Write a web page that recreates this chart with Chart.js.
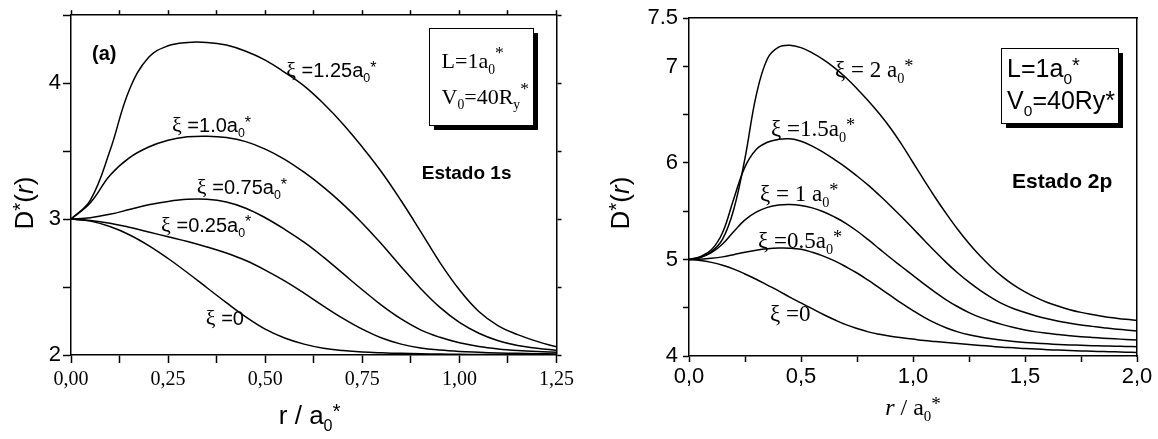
<!DOCTYPE html>
<html>
<head>
<meta charset="utf-8">
<script src="https://cdn.jsdelivr.net/npm/chart.js@4.4.1/dist/chart.umd.min.js"></script>
<style>
  html, body { margin: 0; padding: 0; background: #fff; }
  #wrap { position: relative; width: 1158px; height: 439px; overflow: hidden; }
  .panel { position: absolute; top: 0; width: 579px; height: 439px; }
</style>
</head>
<body>
<div id="wrap">
  <div class="panel" style="left:0"><canvas id="left" width="579" height="439"></canvas></div>
  <div class="panel" style="left:579px"><canvas id="right" width="579" height="439"></canvas></div>
</div>
<script>
const SERIF = "'Liberation Serif', 'Times New Roman', serif";
const SANS = "'Liberation Sans', Arial, sans-serif";

// Estado 1s: r / a0* and D*(r) for each xi
const r1s = [0, 0.05, 0.10, 0.15, 0.20, 0.25, 0.30, 0.35, 0.40, 0.45, 0.50, 0.55, 0.60,
             0.65, 0.70, 0.75, 0.80, 0.85, 0.90, 0.95, 1.00, 1.05, 1.10, 1.15, 1.20, 1.25];
const d1s_xi0   = [3.00, 2.985, 2.945, 2.885, 2.805, 2.71, 2.605, 2.495, 2.385, 2.28, 2.19, 2.125, 2.08,
                   2.05, 2.033, 2.022, 2.016, 2.012, 2.009, 2.007, 2.005, 2.004, 2.003, 2.002, 2.002, 2.001];
const d1s_xi025 = [3.00, 2.99, 2.97, 2.94, 2.905, 2.87, 2.835, 2.795, 2.75, 2.695, 2.625, 2.545, 2.455,
                   2.36, 2.27, 2.19, 2.125, 2.08, 2.052, 2.036, 2.026, 2.02, 2.015, 2.012, 2.01, 2.008];
const d1s_xi075 = [3.00, 3.01, 3.035, 3.07, 3.105, 3.13, 3.145, 3.145, 3.125, 3.08, 3.01, 2.925, 2.83,
                   2.72, 2.60, 2.48, 2.365, 2.265, 2.185, 2.13, 2.09, 2.063, 2.045, 2.033, 2.025, 2.02];
const d1s_xi100 = [3.00, 3.12, 3.32, 3.45, 3.53, 3.58, 3.605, 3.61, 3.60, 3.57, 3.515, 3.44, 3.345,
                   3.235, 3.11, 2.97, 2.815, 2.65, 2.49, 2.35, 2.24, 2.16, 2.105, 2.07, 2.05, 2.035];
const d1s_xi125 = [3.00, 3.14, 3.50, 3.95, 4.19, 4.275, 4.30, 4.30, 4.28, 4.235, 4.17, 4.08, 3.98,
                   3.85, 3.70, 3.53, 3.345, 3.135, 2.91, 2.68, 2.48, 2.32, 2.215, 2.15, 2.10, 2.06];

// Estado 2p
const r2p = [0, 0.05, 0.10, 0.15, 0.20, 0.25, 0.30, 0.35, 0.40, 0.45, 0.50, 0.55, 0.60, 0.65,
             0.70, 0.75, 0.80, 0.85, 0.90, 0.95, 1.00, 1.05, 1.10, 1.15, 1.20, 1.25, 1.30, 1.35,
             1.40, 1.45, 1.50, 1.55, 1.60, 1.65, 1.70, 1.75, 1.80, 1.85, 1.90, 1.95, 2.00];
const d2p_xi0  = [5.00, 4.99, 4.97, 4.94, 4.90, 4.85, 4.795, 4.735, 4.675, 4.61, 4.55, 4.49, 4.43, 4.375,
                  4.325, 4.285, 4.25, 4.225, 4.205, 4.19, 4.175, 4.16, 4.15, 4.14, 4.13, 4.12, 4.11, 4.10,
                  4.09, 4.085, 4.078, 4.072, 4.066, 4.061, 4.057, 4.053, 4.049, 4.046, 4.043, 4.04, 4.037];
const d2p_xi05 = [5.00, 5.003, 5.012, 5.027, 5.05, 5.075, 5.095, 5.11, 5.118, 5.117, 5.105, 5.075, 5.035, 4.985,
                  4.925, 4.86, 4.785, 4.705, 4.625, 4.545, 4.47, 4.40, 4.34, 4.29, 4.25, 4.22, 4.197, 4.178,
                  4.163, 4.151, 4.141, 4.133, 4.126, 4.12, 4.115, 4.111, 4.107, 4.104, 4.101, 4.099, 4.097];
const d2p_xi1  = [5.00, 5.02, 5.07, 5.16, 5.29, 5.41, 5.49, 5.54, 5.565, 5.57, 5.56, 5.535, 5.495, 5.44,
                  5.375, 5.295, 5.205, 5.11, 5.015, 4.925, 4.835, 4.745, 4.66, 4.58, 4.51, 4.45, 4.40, 4.36,
                  4.325, 4.295, 4.27, 4.25, 4.235, 4.222, 4.21, 4.20, 4.192, 4.185, 4.178, 4.172, 4.167];
const d2p_xi15 = [5.00, 5.03, 5.10, 5.28, 5.63, 5.96, 6.14, 6.215, 6.245, 6.25, 6.225, 6.175, 6.11, 6.035,
                  5.955, 5.865, 5.77, 5.665, 5.555, 5.44, 5.32, 5.20, 5.08, 4.965, 4.86, 4.765, 4.68, 4.605,
                  4.54, 4.49, 4.45, 4.415, 4.385, 4.36, 4.34, 4.322, 4.307, 4.293, 4.28, 4.27, 4.26];
const d2p_xi2  = [5.00, 5.02, 5.08, 5.21, 5.52, 6.05, 6.70, 7.08, 7.20, 7.22, 7.195, 7.14, 7.07, 6.985,
                  6.885, 6.77, 6.645, 6.51, 6.36, 6.19, 6.005, 5.82, 5.64, 5.47, 5.31, 5.165, 5.035, 4.92,
                  4.82, 4.735, 4.665, 4.605, 4.555, 4.515, 4.48, 4.452, 4.43, 4.41, 4.394, 4.38, 4.37];

function pts(xs, ys) { return xs.map((x, i) => ({ x: x, y: ys[i] })); }
function curve(xs, ys) {
  return { data: pts(xs, ys), borderColor: '#000', borderWidth: 1.5, pointRadius: 0,
           tension: 0.4, fill: false };
}

// rich text: parts with optional sub / sup / serif / italic
function partFont(p, o) {
  let size = o.size;
  if (p.k === 'sub') size = o.size * 0.62;
  if (p.k === 'sup') size = o.size * 0.8;
  if (p.big) size = o.size * 1.1;
  const fam = p.serif ? SERIF : (o.family || SANS);
  return { font: (p.it ? 'italic ' : '') + (o.bold ? 'bold ' : '') + size + 'px ' + fam, size: size };
}
function measureRich(ctx, parts, o) {
  let w = 0;
  for (const p of parts) { ctx.font = partFont(p, o).font; w += ctx.measureText(p.t).width; }
  return w;
}
function drawRich(ctx, x, y, parts, o) {
  let cx = x;
  for (const p of parts) {
    const f = partFont(p, o);
    let dy = 0;
    if (p.k === 'sub') dy = o.size * 0.26;
    if (p.k === 'sup') dy = -o.size * (o.supLift || 0.22);
    ctx.font = f.font;
    ctx.fillText(p.t, cx, y + dy);
    cx += ctx.measureText(p.t).width;
  }
}

function decor(spec) {
  return {
    id: 'decor',
    afterDraw(chart) {
      const ctx = chart.ctx, xs = chart.scales.x, ys = chart.scales.y;
      const X = v => xs.getPixelForValue(v), Y = v => ys.getPixelForValue(v);
      const ca = chart.chartArea;
      ctx.save();
      ctx.textAlign = 'left';
      ctx.textBaseline = 'alphabetic';
      for (const b of spec.boxes) {
        const x0 = Math.round(X(b.r0)), x1 = Math.round(X(b.r1));
        const y0 = Math.round(Y(b.d0)), y1 = Math.round(Y(b.d1));
        ctx.fillStyle = '#000';
        ctx.fillRect(x0 + 5, y0 + 5, x1 - x0, y1 - y0);
        ctx.fillStyle = '#fff';
        ctx.fillRect(x0, y0, x1 - x0, y1 - y0);
        ctx.strokeStyle = '#000';
        ctx.lineWidth = 1;
        ctx.strokeRect(x0 + 0.5, y0 + 0.5, x1 - x0, y1 - y0);
      }
      ctx.fillStyle = '#000';
      for (const n of spec.notes) drawRich(ctx, X(n.r), Y(n.d) + n.size * 0.35, n.parts, n);
      const xt = spec.xTitle;
      const wx = measureRich(ctx, xt.parts, xt);
      drawRich(ctx, (ca.left + ca.right) / 2 - wx / 2 + (xt.dx || 0), xt.y, xt.parts, xt);
      const yt = spec.yTitle;
      const wy = measureRich(ctx, yt.parts, yt);
      ctx.translate(yt.x, (ca.top + ca.bottom) / 2 + (yt.dy || 0));
      ctx.rotate(-Math.PI / 2);
      drawRich(ctx, -wy / 2, 0, yt.parts, yt);
      ctx.restore();
    }
  };
}

function fixSize(w, h) {
  return function (scale) {
    if (w !== null) scale.width = w;
    if (h !== null) scale.height = h;
  };
}
const isStep = (v, s) => Math.abs(v / s - Math.round(v / s)) < 1e-6;

// ---------- left panel ----------
const notes1s = [
  { r: 0.054, d: 4.22, size: 20, bold: true, parts: [{ t: '(a)' }] },
  { r: 0.554, d: 4.095, size: 20, parts: [{ t: 'ξ', serif: true, big: true }, { t: ' =1.25a' }, { t: '0', k: 'sub' }, { t: '*', k: 'sup' }] },
  { r: 0.260, d: 3.69, size: 20, parts: [{ t: 'ξ', serif: true, big: true }, { t: ' =1.0a' }, { t: '0', k: 'sub' }, { t: '*', k: 'sup' }] },
  { r: 0.324, d: 3.236, size: 20, parts: [{ t: 'ξ', serif: true, big: true }, { t: ' =0.75a' }, { t: '0', k: 'sub' }, { t: '*', k: 'sup' }] },
  { r: 0.232, d: 2.96, size: 20, parts: [{ t: 'ξ', serif: true, big: true }, { t: ' =0.25a' }, { t: '0', k: 'sub' }, { t: '*', k: 'sup' }] },
  { r: 0.347, d: 2.27, size: 20, parts: [{ t: 'ξ', serif: true, big: true }, { t: ' =0' }] },
  { r: 0.903, d: 3.345, size: 19, bold: true, parts: [{ t: 'Estado 1s' }] },
  { r: 0.954, d: 4.167, size: 22, family: SERIF, supLift: 0.45, parts: [{ t: 'L=1a' }, { t: '0', k: 'sub' }, { t: '*', k: 'sup' }] },
  { r: 0.954, d: 3.905, size: 22, family: SERIF, supLift: 0.45, parts: [{ t: 'V' }, { t: '0', k: 'sub' }, { t: '=40R' }, { t: 'y', k: 'sub' }, { t: '*', k: 'sup' }] }
];

new Chart(document.getElementById('left'), {
  type: 'line',
  data: {
    datasets: [curve(r1s, d1s_xi0), curve(r1s, d1s_xi025), curve(r1s, d1s_xi075),
               curve(r1s, d1s_xi100), curve(r1s, d1s_xi125)]
  },
  options: {
    responsive: false,
    animation: false,
    devicePixelRatio: 1,
    layout: { padding: 0 },
    plugins: { legend: { display: false }, tooltip: { enabled: false } },
    scales: {
      x: {
        type: 'linear', position: 'bottom', min: 0, max: 1.25,
        afterFit: fixSize(null, 84),
        grid: { drawOnChartArea: false, tickLength: 8, tickColor: '#000', tickWidth: 1.5 },
        border: { color: '#000', width: 1.5 },
        ticks: {
          stepSize: 0.125, autoSkip: false, maxRotation: 0, padding: 5, color: '#000',
          font: { family: SERIF, size: 20 },
          callback: v => isStep(v, 0.25) ? v.toFixed(2).replace('.', ',') : ''
        }
      },
      x2: {
        type: 'linear', position: 'top', min: 0, max: 1.25,
        afterFit: fixSize(null, 10),
        grid: { drawOnChartArea: false, tickLength: 5, tickColor: '#000', tickWidth: 1.5 },
        border: { color: '#000', width: 1.5 },
        ticks: { stepSize: 0.125, autoSkip: false, display: false }
      },
      y: {
        type: 'linear', position: 'left', min: 2, max: 4.5,
        afterFit: fixSize(71, null),
        grid: { drawOnChartArea: false, tickLength: 8, tickColor: '#000', tickWidth: 1.5 },
        border: { color: '#000', width: 1.5 },
        ticks: {
          stepSize: 0.5, autoSkip: false, padding: 2, color: '#000',
          font: { family: SANS, size: 22 },
          callback: v => isStep(v, 1) ? String(v) : ''
        }
      },
      y2: {
        type: 'linear', position: 'right', min: 2, max: 4.5,
        afterFit: fixSize(20, null),
        grid: { drawOnChartArea: false, tickLength: 5, tickColor: '#000', tickWidth: 1.5 },
        border: { color: '#000', width: 1.5 },
        ticks: { stepSize: 0.5, autoSkip: false, display: false }
      }
    }
  },
  plugins: [decor({
    boxes: [{ r0: 0.923, r1: 1.189, d0: 4.407, d1: 3.695 }],
    notes: notes1s,
    xTitle: { y: 424, dx: -4, size: 26, parts: [{ t: 'r / a' }, { t: '0', k: 'sub' }, { t: '*', k: 'sup' }] },
    yTitle: { x: 33, dy: 18, size: 26, parts: [{ t: 'D' }, { t: '*', k: 'sup' }, { t: '(' }, { t: 'r', it: true }, { t: ')' }] }
  })]
});

// ---------- right panel ----------
const notes2p = [
  { r: 0.652, d: 6.978, size: 23, family: SERIF, parts: [{ t: 'ξ = 2 a' }, { t: '0', k: 'sub' }, { t: '*', k: 'sup' }] },
  { r: 0.366, d: 6.358, size: 23, family: SERIF, parts: [{ t: 'ξ =1.5a' }, { t: '0', k: 'sub' }, { t: '*', k: 'sup' }] },
  { r: 0.317, d: 5.686, size: 23, family: SERIF, parts: [{ t: 'ξ = 1 a' }, { t: '0', k: 'sub' }, { t: '*', k: 'sup' }] },
  { r: 0.308, d: 5.20, size: 23, family: SERIF, parts: [{ t: 'ξ =0.5a' }, { t: '0', k: 'sub' }, { t: '*', k: 'sup' }] },
  { r: 0.362, d: 4.445, size: 23, family: SERIF, parts: [{ t: 'ξ =0' }] },
  { r: 1.442, d: 5.82, size: 21, bold: true, parts: [{ t: 'Estado 2p' }] },
  { r: 1.42, d: 6.978, size: 25, parts: [{ t: 'L=1a' }, { t: '0', k: 'sub' }, { t: '*', k: 'sup' }] },
  { r: 1.42, d: 6.647, size: 25, parts: [{ t: 'V' }, { t: '0', k: 'sub' }, { t: '=40Ry*' }] }
];

new Chart(document.getElementById('right'), {
  type: 'line',
  data: {
    datasets: [curve(r2p, d2p_xi0), curve(r2p, d2p_xi05), curve(r2p, d2p_xi1),
               curve(r2p, d2p_xi15), curve(r2p, d2p_xi2)]
  },
  options: {
    responsive: false,
    animation: false,
    devicePixelRatio: 1,
    layout: { padding: 0 },
    plugins: { legend: { display: false }, tooltip: { enabled: false } },
    scales: {
      x: {
        type: 'linear', position: 'bottom', min: 0, max: 2,
        afterFit: fixSize(null, 83),
        grid: { drawOnChartArea: false, tickLength: 6, tickColor: '#000', tickWidth: 1.5 },
        border: { color: '#000', width: 1.5 },
        ticks: {
          stepSize: 0.25, autoSkip: false, maxRotation: 0, padding: 2, color: '#000',
          font: { family: SANS, size: 22 },
          callback: v => isStep(v, 0.5) ? v.toFixed(1).replace('.', ',') : ''
        }
      },
      x2: {
        type: 'linear', position: 'top', min: 0, max: 2,
        afterFit: fixSize(null, 17),
        grid: { drawOnChartArea: false, drawTicks: false },
        border: { color: '#000', width: 1.5 },
        ticks: { display: false }
      },
      y: {
        type: 'linear', position: 'left', min: 4, max: 7.5,
        afterFit: fixSize(110, null),
        grid: { drawOnChartArea: false, tickLength: 6, tickColor: '#000', tickWidth: 1.5 },
        border: { color: '#000', width: 1.5 },
        ticks: {
          stepSize: 0.5, autoSkip: false, padding: 5, color: '#000',
          font: { family: SANS, size: 22 },
          callback: v => (isStep(v, 1) || v === 7.5) ? String(v) : ''
        }
      },
      y2: {
        type: 'linear', position: 'right', min: 4, max: 7.5,
        afterFit: fixSize(21, null),
        grid: { drawOnChartArea: false, drawTicks: false },
        border: { color: '#000', width: 1.5 },
        ticks: { display: false }
      }
    }
  },
  plugins: [decor({
    boxes: [{ r0: 1.393, r1: 1.915, d0: 7.195, d1: 6.41 }],
    notes: notes2p,
    xTitle: { y: 415, size: 24, family: SERIF, parts: [{ t: 'r', it: true }, { t: ' / a' }, { t: '0', k: 'sub' }, { t: '*', k: 'sup' }] },
    yTitle: { x: 50, dy: 16, size: 26, parts: [{ t: 'D' }, { t: '*', k: 'sup' }, { t: '(' }, { t: 'r', it: true }, { t: ')' }] }
  })]
});
</script>
</body>
</html>
